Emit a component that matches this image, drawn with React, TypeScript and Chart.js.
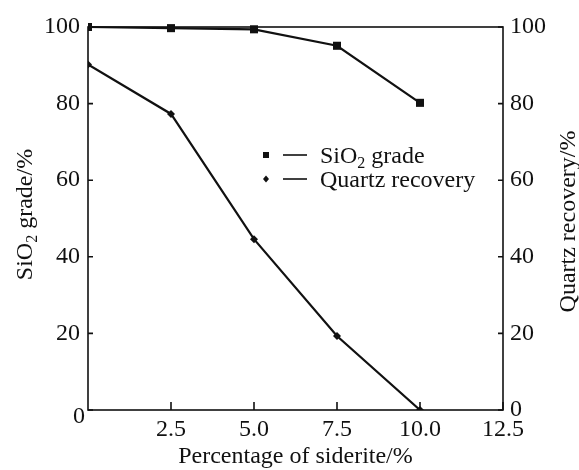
import React, { useEffect, useRef } from 'react';
import { Chart, registerables } from 'chart.js';

Chart.register(...registerables);

const siderite = [0, 2.5, 5.0, 7.5, 10.0];
const sio2Grade = [100, 99.7, 99.4, 95.1, 80.2];
const quartzRecovery = [90.2, 77.3, 44.6, 19.3, 0];
const xTickValues = [2.5, 5.0, 7.5, 10.0, 12.5];
const yTickValues = [0, 20, 40, 60, 80, 100];
const xTitle = 'Percentage of siderite/%';
const leftTitleParts = [
  { t: 'SiO', sub: false },
  { t: '2', sub: true },
  { t: ' grade/%', sub: false },
];
const rightTitle = 'Quartz recovery/%';
const legendRows = [
  { parts: [{ t: 'SiO', sub: false }, { t: '2', sub: true }, { t: ' grade', sub: false }], marker: 'square' },
  { parts: [{ t: 'Quartz recovery', sub: false }], marker: 'diamond' },
];

const FONT = "'Liberation Serif', 'Times New Roman', serif";
const INK = '#111';
const TICK_SIZE = 24;
const TITLE_SIZE = 24;

type Part = { t: string; sub: boolean };

function partsWidth(ctx: CanvasRenderingContext2D, parts: Part[], size: number) {
  let w = 0;
  for (const p of parts) {
    ctx.font = `${p.sub ? Math.round(size * 0.65) : size}px ${FONT}`;
    w += ctx.measureText(p.t).width;
  }
  return w;
}

function drawParts(ctx: CanvasRenderingContext2D, parts: Part[], x: number, y: number, size: number) {
  let cx = x;
  ctx.textAlign = 'left';
  ctx.textBaseline = 'alphabetic';
  for (const p of parts) {
    const s = p.sub ? Math.round(size * 0.65) : size;
    ctx.font = `${s}px ${FONT}`;
    ctx.fillText(p.t, cx, p.sub ? y + size * 0.22 : y);
    cx += ctx.measureText(p.t).width;
  }
}

const decorPlugin = {
  id: 'decor',
  afterDraw(chart: any) {
    const ctx: CanvasRenderingContext2D = chart.ctx;
    const { left, right, top, bottom } = chart.chartArea;
    const xs = chart.scales.x;
    const ys = chart.scales.y;
    const y1 = chart.scales.y1;
    ctx.save();
    ctx.strokeStyle = INK;
    ctx.fillStyle = INK;
    ctx.lineWidth = 1.6;
    // frame
    ctx.strokeRect(left, top, right - left, bottom - top);
    // inward ticks
    ctx.beginPath();
    for (const v of xTickValues) {
      const px = xs.getPixelForValue(v);
      ctx.moveTo(px, bottom);
      ctx.lineTo(px, bottom - 8);
    }
    for (const v of yTickValues) {
      const py = ys.getPixelForValue(v);
      ctx.moveTo(left, py);
      ctx.lineTo(left + 5, py);
      const py1 = y1.getPixelForValue(v);
      ctx.moveTo(right, py1);
      ctx.lineTo(right - 5, py1);
    }
    ctx.stroke();

    // shared origin label
    ctx.font = `${TICK_SIZE}px ${FONT}`;
    ctx.textAlign = 'center';
    ctx.textBaseline = 'middle';
    ctx.fillText('0', left - 9, bottom + 7);

    // left title
    const midY = (top + bottom) / 2;
    ctx.save();
    ctx.translate(32, midY - 4);
    ctx.rotate(-Math.PI / 2);
    const lw = partsWidth(ctx, leftTitleParts, TITLE_SIZE);
    drawParts(ctx, leftTitleParts, -lw / 2, 0, TITLE_SIZE);
    ctx.restore();

    // right title
    ctx.save();
    ctx.translate(575, midY + 3);
    ctx.rotate(-Math.PI / 2);
    ctx.font = `${TITLE_SIZE}px ${FONT}`;
    ctx.textAlign = 'center';
    ctx.textBaseline = 'alphabetic';
    ctx.fillText(rightTitle, 0, 0);
    ctx.restore();

    // legend
    legendRows.forEach((row, i) => {
      const cy = top + 128 + i * 24;
      const mx = left + 178;
      ctx.beginPath();
      if (row.marker === 'square') {
        ctx.rect(mx - 3, cy - 3, 6, 6);
      } else {
        ctx.moveTo(mx, cy - 3.5);
        ctx.lineTo(mx + 3, cy);
        ctx.lineTo(mx, cy + 3.5);
        ctx.lineTo(mx - 3, cy);
        ctx.closePath();
      }
      ctx.fill();
      ctx.beginPath();
      ctx.lineWidth = 1.6;
      ctx.moveTo(left + 195, cy);
      ctx.lineTo(left + 219, cy);
      ctx.stroke();
      drawParts(ctx, row.parts, left + 232, cy + 8, TICK_SIZE);
    });
    ctx.restore();
  },
};

export default function App() {
  const canvasRef = useRef<HTMLCanvasElement | null>(null);

  useEffect(() => {
    document.body.style.margin = '0';
    const canvas = canvasRef.current;
    if (!canvas) return;
    const gradeData = siderite.map((x, i) => ({ x, y: sio2Grade[i] }));
    const recData = siderite.map((x, i) => ({ x, y: quartzRecovery[i] }));
    const tickFont = { family: FONT, size: TICK_SIZE };
    const chart = new Chart(canvas, {
      type: 'line',
      data: {
        datasets: [
          {
            label: 'SiO2 grade',
            data: gradeData,
            yAxisID: 'y',
            borderColor: INK,
            backgroundColor: INK,
            borderWidth: 2.2,
            pointStyle: 'rect',
            pointRadius: 5.7,
            pointBorderWidth: 0,
            tension: 0,
            clip: { left: 0, top: false, right: false, bottom: 0 } as any,
          },
          {
            label: 'Quartz recovery',
            data: recData,
            yAxisID: 'y1',
            borderColor: INK,
            backgroundColor: INK,
            borderWidth: 2.2,
            pointStyle: 'rectRot',
            pointRadius: 4,
            pointBorderWidth: 0,
            tension: 0,
            clip: { left: 0, top: false, right: false, bottom: 0 } as any,
          },
        ],
      },
      options: {
        responsive: false,
        animation: false,
        layout: { padding: { top: 27, left: 0, right: 0, bottom: 0 } },
        plugins: { legend: { display: false }, tooltip: { enabled: false } },
        scales: {
          x: {
            type: 'linear',
            min: 0,
            max: 12.5,
            grid: { display: false, drawTicks: false },
            border: { display: false },
            afterBuildTicks: (scale: any) => {
              scale.ticks = xTickValues.map((v) => ({ value: v }));
            },
            afterFit: (scale: any) => {
              scale.height = 60;
            },
            ticks: {
              font: tickFont,
              color: INK,
              padding: 5,
              maxRotation: 0,
              autoSkip: false,
              callback: (v: any) => Number(v).toFixed(1),
            },
            title: {
              display: true,
              text: xTitle,
              font: { family: FONT, size: TITLE_SIZE, lineHeight: 1.1 },
              color: INK,
              padding: { top: 0, bottom: 0 },
            },
          },
          y: {
            type: 'linear',
            position: 'left',
            min: 0,
            max: 100,
            grid: { display: false, drawTicks: false },
            border: { display: false },
            afterBuildTicks: (scale: any) => {
              scale.ticks = yTickValues.map((v) => ({ value: v }));
            },
            afterFit: (scale: any) => {
              scale.width = 88;
            },
            ticks: {
              font: tickFont,
              color: INK,
              padding: 8,
              callback: (v: any) => (Number(v) === 0 ? '' : String(v)),
            },
          },
          y1: {
            type: 'linear',
            position: 'right',
            min: 0,
            max: 100,
            grid: { display: false, drawTicks: false },
            border: { display: false },
            afterBuildTicks: (scale: any) => {
              scale.ticks = yTickValues.map((v) => ({ value: v }));
            },
            afterFit: (scale: any) => {
              scale.width = 76;
            },
            ticks: {
              font: tickFont,
              color: INK,
              padding: 7,
              callback: (v: any) => String(v),
            },
          },
        },
      },
      plugins: [decorPlugin],
    } as any);
    return () => chart.destroy();
  }, []);

  return (
    <div style={{ width: 579, height: 470 }}>
      <canvas ref={canvasRef} width={579} height={470} />
    </div>
  );
}
